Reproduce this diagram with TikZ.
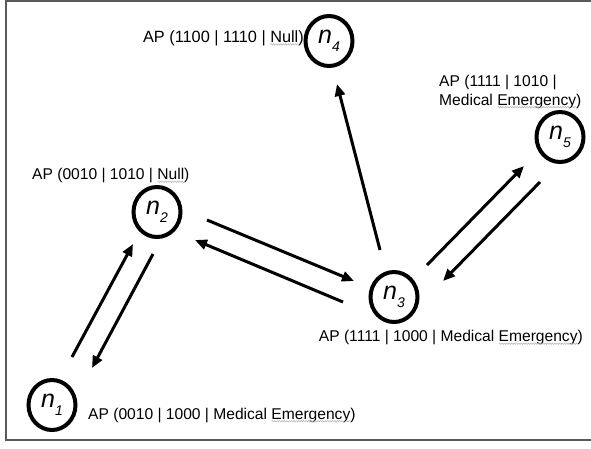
\documentclass[tikz,border=0pt]{standalone}
\usepackage{fontspec}
\setmainfont{Liberation Sans}
\usetikzlibrary{calc}
\usetikzlibrary{shapes.geometric}
\usetikzlibrary{decorations.pathmorphing}
\usetikzlibrary{arrows.meta}

\newcommand{\nlab}[1]{{\fontsize{25}{25}\selectfont\itshape n}\raisebox{-8pt}{\fontsize{14}{14}\selectfont\itshape #1}}

\begin{document}
\begin{tikzpicture}[x=1pt, y=-1pt,
    agent/.style={draw, ellipse, line width=4pt, minimum width=47pt, minimum height=50pt, inner sep=0},
    info/.style={inner sep=0, font=\fontsize{15.6}{18.5}\selectfont},
    link/.style={line width=3pt, -{Triangle[length=12pt,width=10pt]}},
    spell/.style={gray!55, line width=0.6pt, decorate, decoration={snake, amplitude=0.7pt, segment length=2.4pt}}]
      \useasboundingbox (0,0) rectangle (591,448);
      \draw [black!65, line width=1.5pt] (600,1) -- (6,1) -- (6,440) -- (600,440);

      \node [agent] (n1) at (52,405) {\nlab{1}};
      \node [agent] (n2) at (157,212) {\nlab{2}};
      \node [agent] (n3) at (394,297) {\nlab{3}};
      \node [agent] (n4) at (329,41) {\nlab{4}};
      \node [agent] (n5) at (560,137) {\nlab{5}};

      \node [info, anchor=base west] (i1) at (88,419) {AP (0010 | 1000 | Medical Emergency)};
      \node [info, anchor=base west] (i2) at (32,179.5) {AP (0010 | 1010 | Null)};
      \node [info, anchor=base east] (i3) at (583,341.5) {AP (1111 | 1000 | Medical Emergency)};
      \node [info, anchor=base east, font=\fontsize{16.3}{18.5}\selectfont] (i4) at (304,42) {AP (1100 | 1110 | Null)};
      \node [info, anchor=north west, align=left] (i5) at (439,75) {AP (1111 | 1010 |\\Medical Emergency)};

      \draw [spell] ([xshift=-84.1pt, yshift=1.3pt]i1.south east) -- ++(78.9,0);
      \draw [spell] ([xshift=-32.1pt, yshift=1.3pt]i2.south east) -- ++(26.9,0);
      \draw [spell] ([xshift=-84.1pt, yshift=1.3pt]i3.south east) -- ++(78.9,0);
      \draw [spell] ([xshift=-33.5pt, yshift=1.3pt]i4.south east) -- ++(28.1,0);
      \draw [spell] ([xshift=-84.1pt, yshift=1.3pt]i5.south east) -- ++(78.9,0);

      \draw [link] ($(n3)+(33,-32)$) -- ($(n5)+(-36,29)$);
      \draw [link] ($(n5)+(-20,45)$) -- ($(n3)+(49,-16)$);
      \draw [link] ($(n3)+(-14,-47)$) -- ($(n4)+(8,43)$);
      \draw [link] ($(n2)+(50,8)$) -- ($(n3)+(-40,-16)$);
      \draw [link] ($(n3)+(-51,5)$) -- ($(n2)+(38,28)$);
      \draw [link] ($(n1)+(20,-48)$) -- ($(n2)+(-24,32)$);
      \draw [link] ($(n2)+(-4,42)$) -- ($(n1)+(40,-37)$);
\end{tikzpicture}
\end{document}
